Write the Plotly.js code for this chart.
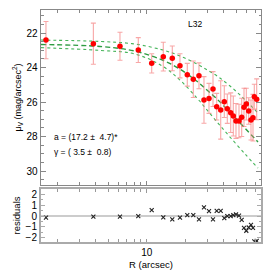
<!DOCTYPE html>
<html>
<head>
<meta charset="utf-8">
<script src="https://cdn.plot.ly/plotly-3.0.1.min.js"></script>
<style>html,body{margin:0;padding:0;background:#fff;}#chart{width:270px;height:270px;}</style>
</head>
<body>
<div id="chart"></div>
<script>
// Data points: radius (arcsec), surface brightness, error, residual
const radius = [1.64, 3.84, 6.19, 8.60, 10.94, 13.47, 15.83, 18.17, 20.72, 23.08,
                25.56, 27.96, 30.59, 32.87, 35.12, 37.75, 40.26, 42.49, 45.16, 47.32,
                49.66, 52.41, 55.02, 57.34, 59.77, 62.37, 65.00, 67.38, 68.98, 72.01];
const mu = [22.41, 22.62, 22.77, 22.99, 23.76, 23.37, 23.47, 23.90, 24.42, 24.68,
            24.48, 25.88, 25.79, 25.25, 26.27, 26.46, 25.98, 26.39, 26.62, 26.81,
            27.10, 27.10, 26.89, 26.31, 26.12, 26.52, 27.04, 26.91, 25.69, 25.84];
const muErr = [1.08, 1.19, 0.81, 0.72, 0.56, 0.83, 0.72, 0.70, 0.66, 1.06,
               0.75, 1.35, 0.87, 1.01, 0.77, 1.69, 0.92, 0.85, 1.15, 1.16,
               1.01, 0.97, 1.11, 1.11, 0.92, 0.77, 1.16, 1.35, 0.72, 1.18];
const residuals = [-0.15, -0.06, -0.06, 0.00, 0.55, -0.12, -0.30, -0.15, 0.09, 0.09,
                   -0.30, 0.80, 0.45, -0.30, 0.48, 0.48, -0.20, 0.00, 0.00, 0.09,
                   0.15, 0.03, -0.36, -1.10, -1.36, -1.06, -0.82, -1.10, -2.35, -2.30];

// Model curves
const curveR = [1.5, 4.33, 8.11, 13.4, 18.17, 24.66, 29.5, 35.95, 44.61, 58.4, 73.7];
const fitMu = [22.67, 22.78, 23.05, 23.58, 24.10, 24.80, 25.30, 25.88, 26.60, 27.52, 28.32];
const upperMu = [22.41, 22.49, 22.64, 22.99, 23.33, 23.80, 24.13, 24.53, 25.07, 25.87, 26.64];
const lowerMu = [22.85, 23.01, 23.22, 23.94, 24.73, 25.77, 26.46, 27.22, 28.03, 29.01, 29.83];

// Tick labels
const xMajorTicks = [10];
const xMajorText = ['10'];
const xMinorTicks = [2, 3, 4, 5, 6, 7, 8, 9, 20, 30, 40, 50, 60, 70];
const yTickVals = [22, 24, 26, 28, 30];
const resTickVals = [-2, -1, 0, 1, 2];

const labelName = 'L32';
const fitTextA = 'a = (17.2 ±  4.7)*';
const fitTextG = 'γ = ( 3.5 ±  0.8)';

const FONT = 'Liberation Sans, Arial, sans-serif';
const green = 'rgb(45,155,65)';
const greenDot = 'rgb(70,180,90)';

const traces = [
  {x: curveR, y: upperMu, xaxis: 'x2', yaxis: 'y', mode: 'lines', line: {color: greenDot, width: 1.1, dash: 'dot', shape: 'spline'}, hoverinfo: 'skip'},
  {x: curveR, y: lowerMu, xaxis: 'x2', yaxis: 'y', mode: 'lines', line: {color: greenDot, width: 1.1, dash: 'dot', shape: 'spline'}, hoverinfo: 'skip'},
  {x: curveR, y: fitMu, xaxis: 'x2', yaxis: 'y', mode: 'lines', line: {color: green, width: 1.4, dash: '5px,3px', shape: 'spline'}, hoverinfo: 'skip'},
  {x: radius, y: mu, xaxis: 'x2', yaxis: 'y', mode: 'markers',
   marker: {color: '#ff0000', size: 5.5},
   error_y: {type: 'data', array: muErr, visible: true, color: 'rgba(245,120,120,0.65)', thickness: 1.1, width: 2.5}},
  {x: radius, y: residuals, xaxis: 'x', yaxis: 'y2', mode: 'markers',
   marker: {symbol: 'x-thin-open', size: 4, color: '#222', line: {color: '#222', width: 1.1}}}
];

const layout = {
  width: 270, height: 270,
  margin: {l: 41, r: 9, t: 10, b: 28},
  paper_bgcolor: '#fff', plot_bgcolor: '#fff',
  showlegend: false,
  font: {family: FONT, size: 10, color: '#000'},
  xaxis: {
    type: 'log', range: [Math.log10(1.5), Math.log10(77.8)], anchor: 'y2',
    tickmode: 'array', tickvals: xMajorTicks, ticktext: xMajorText,
    ticks: 'inside', ticklen: 3.5, tickcolor: '#999', tickwidth: 1,
    minor: {tickmode: 'array', tickvals: xMinorTicks, ticks: 'inside', ticklen: 3, tickcolor: '#999'},
    showline: true, linecolor: '#aaa', linewidth: 2, mirror: 'ticks',
    showgrid: false, zeroline: false,
    tickfont: {size: 10, family: FONT},
    title: {text: 'R (arcsec)', font: {size: 9.5, family: FONT}, standoff: 4}
  },
  xaxis2: {
    type: 'log', range: [Math.log10(1.5), Math.log10(77.8)], anchor: 'y', matches: 'x',
    tickmode: 'array', tickvals: xMajorTicks, showticklabels: false,
    ticks: 'inside', ticklen: 3.5, tickcolor: '#888', tickwidth: 1,
    minor: {tickmode: 'array', tickvals: xMinorTicks, ticks: 'inside', ticklen: 3, tickcolor: '#888'},
    showline: true, linecolor: '#888', linewidth: 1.3, mirror: 'ticks',
    showgrid: false, zeroline: false
  },
  yaxis: {
    domain: [0.2457, 1], range: [30.81, 20.667], anchor: 'x2',
    tickmode: 'array', tickvals: yTickVals,
    ticks: 'inside', ticklen: 5, tickcolor: '#888', tickwidth: 1,
    minor: {dtick: 0.5, ticklen: 2.5, ticks: 'inside', tickcolor: '#888'},
    showline: true, linecolor: '#888', linewidth: 1.3, mirror: 'ticks',
    showgrid: false, zeroline: false,
    tickfont: {size: 10, family: FONT},
    title: {text: 'μ<sub>V</sub> (mag/arcsec<sup>2</sup>)', font: {size: 9, family: FONT}, standoff: 3}
  },
  yaxis2: {
    domain: [0, 0.2284], range: [-2.4, 2.5], anchor: 'x',
    tickmode: 'array', tickvals: resTickVals,
    ticks: 'inside', ticklen: 4, tickcolor: '#aaa', tickwidth: 1,
    minor: {dtick: 0.5, ticklen: 2, ticks: 'inside', tickcolor: '#aaa'},
    showline: true, linecolor: '#aaa', linewidth: 2, mirror: 'ticks',
    showgrid: false, zeroline: true, zerolinecolor: '#ccc', zerolinewidth: 2,
    tickfont: {size: 10, family: FONT},
    title: {text: 'residuals', font: {size: 9.5, family: FONT}, standoff: 3}
  },
  annotations: [
    {xref: 'paper', yref: 'paper', x: 0.70, y: 0.941, text: labelName, showarrow: false,
     xanchor: 'center', yanchor: 'middle', font: {size: 8.5, family: FONT}},
    {xref: 'paper', yref: 'paper', x: 0.052, y: 0.4526, text: fitTextA, showarrow: false,
     xanchor: 'left', yanchor: 'middle', font: {size: 8.5, family: FONT}},
    {xref: 'paper', yref: 'paper', x: 0.052, y: 0.39, text: fitTextG, showarrow: false,
     xanchor: 'left', yanchor: 'middle', font: {size: 8.5, family: FONT}}
  ]
};

Plotly.newPlot('chart', traces, layout, {staticPlot: true, displayModeBar: false});
</script>
</body>
</html>
